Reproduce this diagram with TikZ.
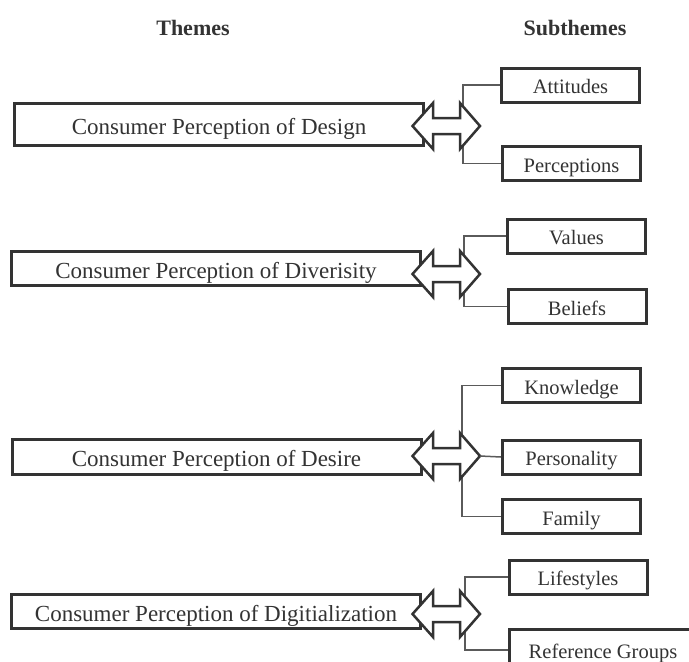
\documentclass[tikz,border=0pt]{standalone}
\usepackage{fontspec}
\setmainfont{Liberation Serif}
\definecolor{boxc}{HTML}{333333}
\definecolor{linec}{HTML}{5A5A5A}
\definecolor{txt}{HTML}{333333}
\newcommand{\dblarr}[2]{% #1 name prefix, #2 centre y
  \draw[biarrow] (412.5,#2) -- (433,#2-23) -- (433,#2-8) -- (460,#2-8) -- (460,#2-23)
    -- (480,#2) -- (460,#2+23) -- (460,#2+8) -- (433,#2+8) -- (433,#2+23) -- cycle;
  \coordinate (#1tip) at (480,#2);
}
\begin{document}
\begin{tikzpicture}[x=1pt,y=-1pt,
  theme/.style={draw=boxc, line width=3pt, fill=white, inner sep=0pt,
    minimum width=409pt, text=txt, font=\fontsize{23}{27}\selectfont,
    text height=24pt, text depth=5pt},
  sub/.style={draw=boxc, line width=3pt, fill=white, inner sep=0pt,
    minimum width=138pt, minimum height=34pt, text=txt, font=\fontsize{20.5}{24}\selectfont,
    text height=22pt, text depth=4.5pt},
  hdr/.style={text=txt, font=\fontsize{22}{26}\selectfont\bfseries},
  conn/.style={draw=linec, line width=1.5pt},
  biarrow/.style={draw=boxc, line width=2.5pt, fill=white, line join=miter}]
\clip (0,0) rectangle (689,662);
\fill[white] (0,0) rectangle (689,662);

% headers
\node[hdr] (hthemes) at (193,28) {Themes};
\node[hdr] (hsub) at (575,28) {Subthemes};

% themes
\node[theme, minimum height=42pt] (t1) at (219,124.5) {Consumer Perception of Design};
\node[theme, minimum height=34pt] (t2) at (216,268.5) {Consumer Perception of Diverisity};
\node[theme, minimum height=35pt] (t3) at (216.5,457) {Consumer Perception of Desire};
\node[theme, minimum height=34pt] (t4) at (216,611.5) {Consumer Perception of Digitialization};

% subthemes
\node[sub] (att) at (570.5,85) {Attitudes};
\node[sub] (per) at (571.5,163.5) {Perceptions};
\node[sub] (val) at (576.5,236) {Values};
\node[sub] (bel) at (577,306.5) {Beliefs};
\node[sub] (kno) at (571.5,385.5) {Knowledge};
\node[sub] (pes) at (571.5,457) {Personality};
\node[sub] (fam) at (571.5,516.5) {Family};
\node[sub] (lif) at (578,577) {Lifestyles};
\node[sub, minimum width=188pt, minimum height=42pt] (ref) at (603,650) {Reference Groups};

% connectors
\coordinate (j1) at (463,126);
\coordinate (j2) at (464,274);
\coordinate (j3) at (462,456);
\coordinate (j4) at (465,614);
\draw[conn] (att.west) -| (j1) |- (per.west);
\draw[conn] (val.west) -| (j2) |- (bel.west);
\draw[conn] (kno.west) -| (j3) |- (fam.west);
\draw[conn] (lif.west) -| (j4) |- (ref.west);

% double arrows
\dblarr{a1}{126}
\dblarr{a2}{274}
\dblarr{a3}{456}
\dblarr{a4}{614}
\draw[conn] (a3tip) -- (pes.west);
\end{tikzpicture}
\end{document}
